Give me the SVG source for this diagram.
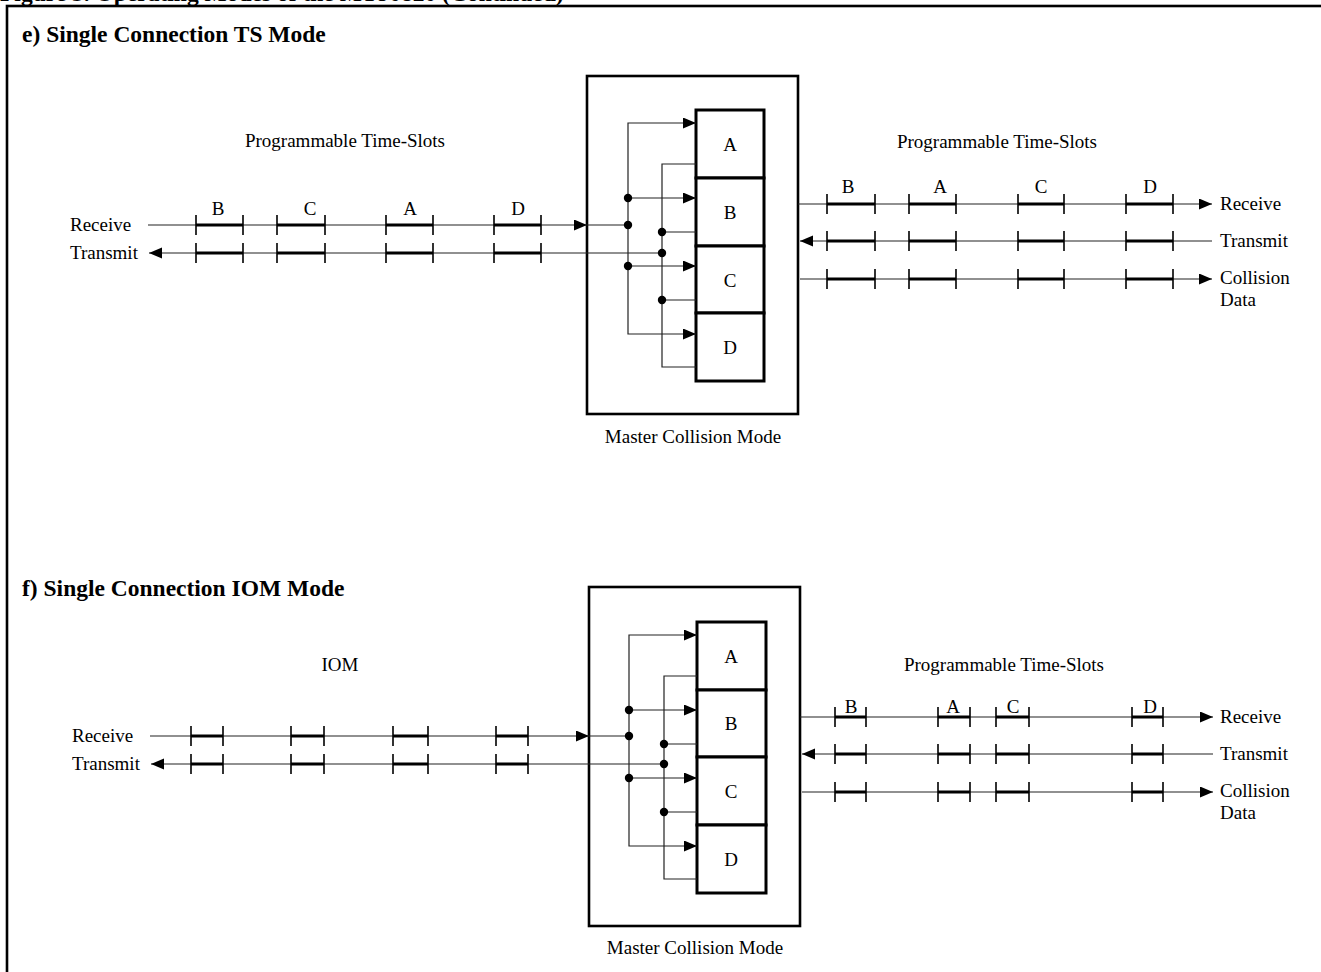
<svg xmlns="http://www.w3.org/2000/svg" width="1321" height="972" viewBox="0 0 1321 972">
<defs>
<marker id="ah" markerUnits="userSpaceOnUse" markerWidth="14" markerHeight="12" refX="13" refY="5.5" orient="auto"><path d="M0,0 L13,5.5 L0,11 z" fill="#000"/></marker>
<style>
text{font-family:"Liberation Serif","Times New Roman",serif;fill:#000}
.h{font-size:23.5px;font-weight:bold}
.t{font-size:19px}
.lb{font-size:19px;text-anchor:middle}
.ln{fill:none;stroke:#222;stroke-width:1.2}
.ar{fill:none;stroke:#222;stroke-width:1.2;marker-end:url(#ah)}
.sl{stroke:#000;stroke-width:3.2}
.tk{stroke:#000;stroke-width:1.6}
.bx{fill:#fff;stroke:#000;stroke-width:2.6}
.cl{fill:#fff;stroke:#000;stroke-width:3}
.dt{fill:#000}
</style>
</defs>
<rect width="1321" height="972" fill="#fff"/>
<text class="h" x="0" y="1">Figure 3. Operating Modes of the MT90820 (Continued)</text>
<rect x="7" y="6" width="1340" height="1000" fill="none" stroke="#000" stroke-width="2.6"/>

<g id="title-e"><text class="h" x="22" y="42">e) Single Connection TS Mode</text></g>
<g id="title-f"><text class="h" x="22" y="596">f) Single Connection IOM Mode</text></g>

<!-- Section e nodes -->
<g id="box-e"><rect class="bx" x="587" y="76" width="211" height="338"/></g>
<g id="cell-e-A"><rect class="cl" x="696" y="110" width="68" height="68"/><text class="lb" x="730" y="151">A</text></g>
<g id="cell-e-B"><rect class="cl" x="696" y="178" width="68" height="68"/><text class="lb" x="730" y="219">B</text></g>
<g id="cell-e-C"><rect class="cl" x="696" y="246" width="68" height="67"/><text class="lb" x="730" y="287">C</text></g>
<g id="cell-e-D"><rect class="cl" x="696" y="313" width="68" height="68"/><text class="lb" x="730" y="354">D</text></g>
<g id="labels-e">
<text class="t" x="345" y="147" text-anchor="middle">Programmable Time-Slots</text>
<text class="t" x="997" y="148" text-anchor="middle">Programmable Time-Slots</text>
<text class="t" x="693" y="443" text-anchor="middle">Master Collision Mode</text>
<text class="t" x="70" y="231">Receive</text>
<text class="t" x="70" y="259">Transmit</text>
<text class="t" x="1220" y="210">Receive</text>
<text class="t" x="1220" y="247">Transmit</text>
<text class="t" x="1220" y="284">Collision</text>
<text class="t" x="1220" y="306">Data</text>
<text class="lb" x="218" y="215">B</text><text class="lb" x="310" y="215">C</text><text class="lb" x="410" y="215">A</text><text class="lb" x="518" y="215">D</text>
<text class="lb" x="848" y="193">B</text><text class="lb" x="940" y="193">A</text><text class="lb" x="1041" y="193">C</text><text class="lb" x="1150" y="193">D</text>
</g>

<!-- Section f nodes -->
<g id="box-f"><rect class="bx" x="589" y="587" width="211" height="339"/></g>
<g id="cell-f-A"><rect class="cl" x="697" y="622" width="69" height="68"/><text class="lb" x="731" y="663">A</text></g>
<g id="cell-f-B"><rect class="cl" x="697" y="690" width="69" height="67"/><text class="lb" x="731" y="730">B</text></g>
<g id="cell-f-C"><rect class="cl" x="697" y="757" width="69" height="68"/><text class="lb" x="731" y="798">C</text></g>
<g id="cell-f-D"><rect class="cl" x="697" y="825" width="69" height="68"/><text class="lb" x="731" y="866">D</text></g>
<g id="labels-f">
<text class="t" x="340" y="671" text-anchor="middle">IOM</text>
<text class="t" x="1004" y="671" text-anchor="middle">Programmable Time-Slots</text>
<text class="t" x="695" y="954" text-anchor="middle">Master Collision Mode</text>
<text class="t" x="72" y="742">Receive</text>
<text class="t" x="72" y="770">Transmit</text>
<text class="t" x="1220" y="723">Receive</text>
<text class="t" x="1220" y="760">Transmit</text>
<text class="t" x="1220" y="797">Collision</text>
<text class="t" x="1220" y="819">Data</text>
<text class="lb" x="851" y="713">B</text><text class="lb" x="953" y="713">A</text><text class="lb" x="1013" y="713">C</text><text class="lb" x="1150" y="713">D</text>
</g>

<g id="connectors">
<!-- e inner -->
<path class="ar" d="M628,198 V123 H696"/>
<path class="ar" d="M628,198 H696"/>
<path class="ar" d="M628,266 H696"/>
<path class="ar" d="M628,266 V334 H696"/>
<path class="ln" d="M628,198 V266"/>
<path class="ln" d="M696,164 H662 V367 H696"/>
<path class="ln" d="M662,232 H696 M662,300 H696"/>
<path class="ar" d="M148,225 H587"/>
<path class="ln" d="M587,225 H628"/>
<path class="ar" d="M662,253 H149"/>
<path class="ar" d="M798,204 H1212"/>
<path class="ar" d="M1212,241 H800"/>
<path class="ar" d="M800,279 H1212"/>
<circle class="dt" cx="628" cy="198" r="4.2"/><circle class="dt" cx="628" cy="225" r="4.2"/><circle class="dt" cx="628" cy="266" r="4.2"/>
<circle class="dt" cx="662" cy="232" r="4.2"/><circle class="dt" cx="662" cy="253" r="4.2"/><circle class="dt" cx="662" cy="300" r="4.2"/>
<!-- f inner -->
<path class="ar" d="M629,710 V635 H697"/>
<path class="ar" d="M629,710 H697"/>
<path class="ar" d="M629,778 H697"/>
<path class="ar" d="M629,778 V846 H697"/>
<path class="ln" d="M629,710 V778"/>
<path class="ln" d="M697,676 H664 V879 H697"/>
<path class="ln" d="M664,744 H697 M664,812 H697"/>
<path class="ar" d="M150,736 H589"/>
<path class="ln" d="M589,736 H629"/>
<path class="ar" d="M664,764 H151"/>
<path class="ar" d="M800,717 H1213"/>
<path class="ar" d="M1213,754 H802"/>
<path class="ar" d="M802,792 H1213"/>
<circle class="dt" cx="629" cy="710" r="4.2"/><circle class="dt" cx="629" cy="736" r="4.2"/><circle class="dt" cx="629" cy="778" r="4.2"/>
<circle class="dt" cx="664" cy="744" r="4.2"/><circle class="dt" cx="664" cy="764" r="4.2"/><circle class="dt" cx="664" cy="812" r="4.2"/>
</g>

<g id="slots-e">
<path class="sl" d="M196,225H243M277,225H325M386,225H433M494,225H541M196,253H243M277,253H325M386,253H433M494,253H541"/>
<path class="tk" d="M196,215v20M243,215v20M277,215v20M325,215v20M386,215v20M433,215v20M494,215v20M541,215v20M196,243v20M243,243v20M277,243v20M325,243v20M386,243v20M433,243v20M494,243v20M541,243v20"/>
<path class="sl" d="M827,204H875M909,204H956M1018,204H1064M1126,204H1173M827,241H875M909,241H956M1018,241H1064M1126,241H1173M827,279H875M909,279H956M1018,279H1064M1126,279H1173"/>
<path class="tk" d="M827,194v20M875,194v20M909,194v20M956,194v20M1018,194v20M1064,194v20M1126,194v20M1173,194v20M827,231v20M875,231v20M909,231v20M956,231v20M1018,231v20M1064,231v20M1126,231v20M1173,231v20M827,269v20M875,269v20M909,269v20M956,269v20M1018,269v20M1064,269v20M1126,269v20M1173,269v20"/>
</g>
<g id="slots-f">
<path class="sl" d="M191,736H223M291,736H324M393,736H428M496,736H528M191,764H223M291,764H324M393,764H428M496,764H528"/>
<path class="tk" d="M191,726v20M223,726v20M291,726v20M324,726v20M393,726v20M428,726v20M496,726v20M528,726v20M191,754v20M223,754v20M291,754v20M324,754v20M393,754v20M428,754v20M496,754v20M528,754v20"/>
<path class="sl" d="M835,717H866M938,717H970M996,717H1029M1132,717H1163M835,754H866M938,754H970M996,754H1029M1132,754H1163M835,792H866M938,792H970M996,792H1029M1132,792H1163"/>
<path class="tk" d="M835,707v20M866,707v20M938,707v20M970,707v20M996,707v20M1029,707v20M1132,707v20M1163,707v20M835,744v20M866,744v20M938,744v20M970,744v20M996,744v20M1029,744v20M1132,744v20M1163,744v20M835,782v20M866,782v20M938,782v20M970,782v20M996,782v20M1029,782v20M1132,782v20M1163,782v20"/>
</g>
</svg>
